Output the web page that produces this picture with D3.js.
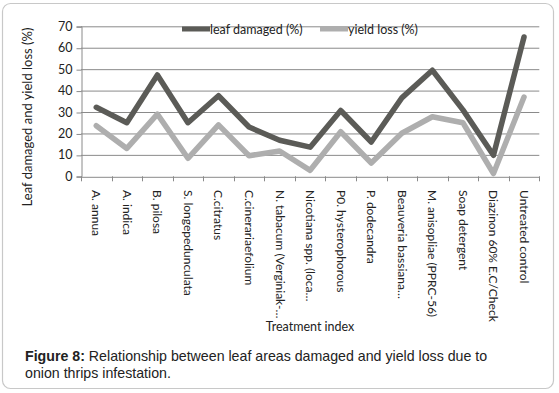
<!DOCTYPE html>
<html><head><meta charset="utf-8">
<script src="https://cdn.jsdelivr.net/npm/d3@7/dist/d3.min.js"></script>
<style>
html,body{margin:0;padding:0;background:#fff;}
svg{display:block;}
</style></head>
<body>
<svg id="chart" width="559" height="393"></svg>
<script>
const categories = ["A. annua","A. indica","B. pilosa","S. longepedunculata","C.citratus","C.cinerariaefolium","N. tabacum (Verginiak-…","Nicotiana spp. (loca…","P0. hysterophorous","P. dodecandra","Beauveria bassiana…","M. anisopliae (PPRC-56)","Soap detergent","Diazinon 60% E.C/Check","Untreated control"];
const leafDamaged = [32.2,25,47.3,25,37.6,23,16.8,13.6,30.7,16,36.6,49.5,31,9.8,65];
const yieldLoss = [23.6,13,29,8.4,24,9.6,11.8,2.8,20.8,6.2,20.1,27.8,25,1.3,37];
const yTicks = [0,10,20,30,40,50,60,70];
const seriesNames = ["leaf damaged (%)","yield loss (%)"];
const seriesColors = ["#5b5b57","#aeaeae"];

const svg = d3.select("#chart");
const font = "Lato, 'Open Sans', sans-serif";

// outer frame
svg.append("rect").attr("x",2.5).attr("y",3.5).attr("width",551).attr("height",385)
  .attr("rx",8).attr("fill","#fff").attr("stroke","#c8c8c8").attr("stroke-width",1.2);

const m = {left:81, right:539.3, top:26.3, bottom:176.3};
const x = d3.scaleBand().domain(categories).range([m.left,m.right]);
const y = d3.scaleLinear().domain([0,70]).range([m.bottom,m.top]);

// gridlines
svg.append("g").selectAll("line").data(yTicks.filter(d=>d>0)).join("line")
  .attr("x1",m.left).attr("x2",m.right)
  .attr("y1",d=>y(d)+0.5).attr("y2",d=>y(d)+0.5)
  .attr("stroke","#8a8a8a").attr("stroke-width",1);

// y axis
const yAxis = svg.append("g").attr("transform",`translate(${m.left+0.5},0)`)
  .call(d3.axisLeft(y).tickValues(yTicks).tickSize(5).tickPadding(4));
yAxis.select(".domain").attr("stroke","#8a8a8a");
yAxis.selectAll(".tick line").attr("stroke","#8a8a8a").attr("transform","translate(0,0.5)");
yAxis.selectAll("text").attr("font-family",font).attr("font-size",12.5).attr("fill","#222");

// x axis
const xAxis = svg.append("g").attr("transform",`translate(0,${m.bottom+0.5})`)
  .call(d3.axisBottom(x).tickSize(0).tickFormat(""));
xAxis.select(".domain").attr("stroke","#8a8a8a");
const bounds = [...categories.map(c=>x(c)), m.right];
svg.append("g").selectAll("line").data(bounds).join("line")
  .attr("x1",d=>Math.round(d)+0.5).attr("x2",d=>Math.round(d)+0.5)
  .attr("y1",m.bottom).attr("y2",m.bottom+5)
  .attr("stroke","#8a8a8a");

// x labels rotated
svg.append("g").selectAll("text").data(categories).join("text")
  .attr("transform",d=>`translate(${x(d)+x.bandwidth()/2-4},190) rotate(90)`)
  .attr("font-family",font).attr("font-size",12).attr("fill","#222")
  .attr("text-anchor","start")
  .text(d=>d);

// lines
const series = [leafDamaged, yieldLoss];
const line = d3.line().x((d,i)=>x(categories[i])+x.bandwidth()/2).y(d=>y(d));
series.forEach((s,k)=>{
  svg.append("path").datum(s).attr("d",line)
    .attr("fill","none").attr("stroke",seriesColors[k]).attr("stroke-width",5.5)
    .attr("stroke-linejoin","round").attr("stroke-linecap","round");
});

// legend
const legendX = [182,320];
seriesNames.forEach((n,k)=>{
  svg.append("line").attr("x1",legendX[k]).attr("x2",legendX[k]+28)
    .attr("y1",29).attr("y2",29).attr("stroke",seriesColors[k]).attr("stroke-width",5);
  svg.append("text").attr("x",legendX[k]+28).attr("y",33.5)
    .attr("font-family",font).attr("font-size",12.5).attr("fill","#222").text(n);
});

// axis titles
svg.append("text").attr("transform","translate(32,117) rotate(-90)")
  .attr("text-anchor","middle").attr("font-family",font).attr("font-size",13).attr("fill","#222")
  .text("Leaf damaged and yield loss (%)");
svg.append("text").attr("x",310).attr("y",330.5).attr("text-anchor","middle")
  .attr("font-family",font).attr("font-size",12.5).attr("fill","#222").text("Treatment index");

// caption
const cap = svg.append("text").attr("font-family","'Liberation Sans', Arial, sans-serif").attr("font-size",14.2).attr("fill","#222");
const l1 = cap.append("tspan").attr("x",25).attr("y",361);
l1.append("tspan").attr("font-weight","bold").text("Figure 8:");
l1.append("tspan").text(" Relationship between leaf areas damaged and yield loss due to");
cap.append("tspan").attr("x",25).attr("y",378).text("onion thrips infestation.");
</script>
</body></html>
